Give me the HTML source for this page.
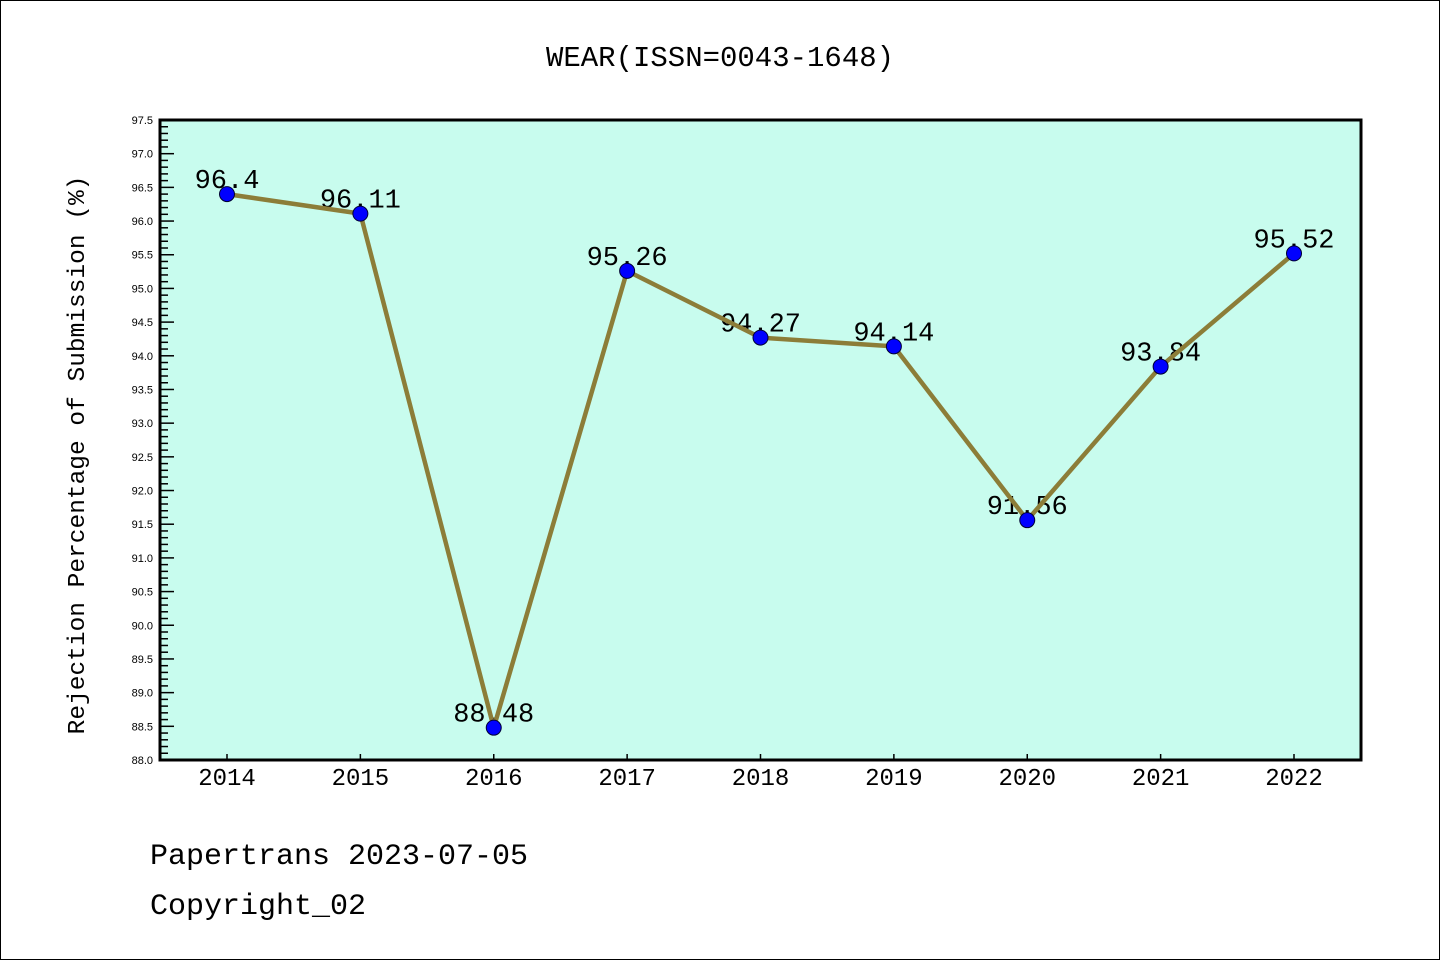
<!DOCTYPE html>
<html><head><meta charset="utf-8"><style>
body{margin:0;background:#fff}
svg text{font-family:"Liberation Mono","WenQuanYi Zen Hei",monospace}
svg text.tk{font-family:"Liberation Sans",sans-serif}
</style></head><body>
<svg width="1440" height="960">
<rect x="0.5" y="0.5" width="1439" height="959" fill="#fff" stroke="#000"/>
<text x="720" y="66" font-size="29" text-anchor="middle">WEAR(ISSN=0043-1648)</text>
<rect x="160" y="120" width="1201" height="640" fill="#c8fcee"/>
<g id="yaxis"></g>
<g id="xaxis"></g>
<g id="labels"></g>
<g id="series"></g>
<rect x="160" y="120" width="1201" height="640" fill="none" stroke="#000" stroke-width="3"/>
<text x="84" y="455" font-size="24.5" text-anchor="middle" transform="rotate(-90 84 455)">Rejection Percentage of Submission (%)</text>
<text x="150" y="864" font-size="30">Papertrans 2023-07-05</text>
<text x="150" y="914" font-size="30">Copyright_02</text>
</svg>
<script>
const years=["2014","2015","2016","2017","2018","2019","2020","2021","2022"];
const values=[96.4,96.11,88.48,95.26,94.27,94.14,91.56,93.84,95.52];
const labels=["96.4","96.11","88.48","95.26","94.27","94.14","91.56","93.84","95.52"];
const yMin=88.0,yMax=97.5;
const NS="http://www.w3.org/2000/svg";
function X(i){return 227+i*(1294-227)/(years.length-1);}
function Y(v){return 760-(v-yMin)/(yMax-yMin)*640;}
function mk(t,a,p){const e=document.createElementNS(NS,t);for(const k in a)e.setAttribute(k,a[k]);p.appendChild(e);return e;}
const ya=document.getElementById('yaxis'),xa=document.getElementById('xaxis'),lg=document.getElementById('labels'),sg=document.getElementById('series');
for(let k=0;k<=95;k++){const v=yMin+k*0.1,y=Y(v),maj=k%5===0;
 const t=mk('line',{x1:160,x2:160+(maj?14:8),y1:y,y2:y,stroke:'#000','stroke-width':1.5},ya);
 
 if(maj){const l=mk('text',{x:153,y:y+4,'font-size':11,'text-anchor':'end','class':'tk'},ya);l.textContent=v.toFixed(1);
 }}
years.forEach((yr,i)=>{const x=X(i);
 const t=mk('line',{x1:x,x2:x,y1:760,y2:754,stroke:'#000','stroke-width':1.5},xa);
 
 const l=mk('text',{x:x,y:785,'font-size':24,'text-anchor':'middle'},xa);l.textContent=yr;
 
 const d=mk('text',{x:x,y:Y(values[i])-6,'font-size':27,'text-anchor':'middle'},lg);d.textContent=labels[i];
 });
const pl=mk('polyline',{points:values.map((v,i)=>X(i)+','+Y(v)).join(' '),fill:'none',stroke:'#8c7d38','stroke-width':4.5,'stroke-linejoin':'round'},sg);

values.forEach((v,i)=>{const c=mk('circle',{cx:X(i),cy:Y(v),r:7.5,fill:'#0000ff',stroke:'#000033','stroke-width':1},sg);
 });
</script>
</body></html>
